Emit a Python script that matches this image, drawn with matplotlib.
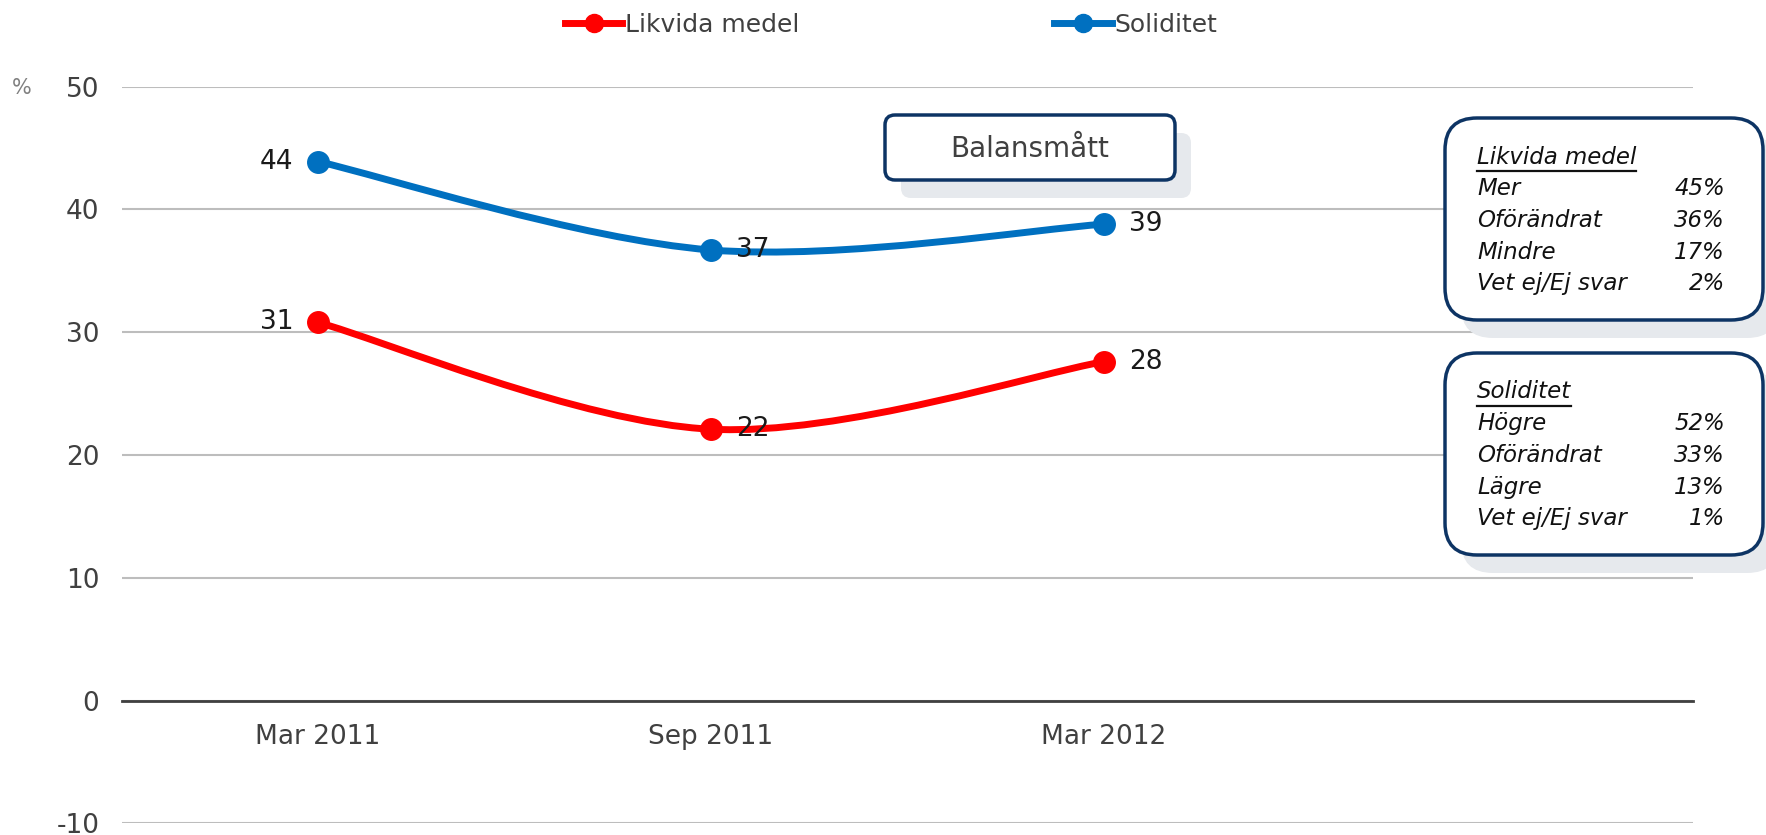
import numpy as np
import matplotlib.pyplot as plt
from matplotlib.path import Path
from matplotlib.patches import PathPatch, FancyBboxPatch
from matplotlib.lines import Line2D

plt.rcParams["axes.unicode_minus"] = False
plt.rcParams["font.family"] = "DejaVu Sans"

periods = ["Mar 2011", "Sep 2011", "Mar 2012"]
likvida = [30.8, 22.1, 27.6]
soliditet = [43.9, 36.7, 38.8]
series_names = ["Likvida medel", "Soliditet"]
series_colors = ["#ff0000", "#0070c0"]
label_side = [["left", "right", "right"], ["left", "right", "right"]]

box_likvida_title = "Likvida medel"
box_likvida_rows = ["Mer", "Oförändrat", "Mindre", "Vet ej/Ej svar"]
box_likvida_vals = ["45%", "36%", "17%", "2%"]
box_solid_title = "Soliditet"
box_solid_rows = ["Högre", "Oförändrat", "Lägre", "Vet ej/Ej svar"]
box_solid_vals = ["52%", "33%", "13%", "1%"]

W, H = 1766, 835
TXT = "#404040"
NAVY = "#0d3464"
SHADOW = "#e6e9ed"


def smooth_path(xs, ys):
    # Excel-like smoothed line: cubic bezier through the points
    p = np.column_stack([xs, ys]).astype(float)
    n = len(p)
    verts = [p[0]]
    codes = [Path.MOVETO]
    for i in range(n - 1):
        prev = p[i - 1] if i > 0 else p[i]
        nxt = p[i + 2] if i + 2 < n else p[i + 1]
        c1 = p[i] + (p[i + 1] - prev) / 6
        c2 = p[i + 1] - (nxt - p[i]) / 6
        verts += [c1, c2, p[i + 1]]
        codes += [Path.CURVE4] * 3
    return Path(verts, codes)


fig = plt.figure(figsize=(W / 100, H / 100), dpi=100)
ax = fig.add_axes([121.6 / W, 1 - 823.3 / H, (1693 - 121.6) / W, (823.3 - 86.7) / H])

x = np.arange(len(periods))
for vals, color, sides in zip([likvida, soliditet], series_colors, label_side):
    ax.add_patch(PathPatch(smooth_path(x, vals), facecolor="none", edgecolor=color,
                           lw=5, capstyle="round", zorder=3))
    ax.plot(x, vals, "o", color=color, ms=15.5, zorder=4)
    for xi, v, side in zip(x, vals, sides):
        dx = -18 if side == "left" else 18
        ax.annotate(f"{v:.0f}", (xi, v), xytext=(dx, 0), textcoords="offset points",
                    ha="right" if side == "left" else "left", va="center",
                    fontsize=19, color="#1a1a1a", zorder=5)

ax.set_xlim(-0.5, 3.5)
ax.set_ylim(-10, 50)
ax.set_yticks(range(-10, 51, 10))
ax.set_xticks(x)
ax.set_xticklabels(periods)
ax.tick_params(axis="y", length=0, pad=16, labelsize=19, labelcolor=TXT)
ax.tick_params(axis="x", length=0, pad=17, labelsize=19, labelcolor=TXT)
ax.grid(axis="y", color="#bdbdbd", lw=1.5)
ax.set_axisbelow(True)
for s in ["top", "right", "left"]:
    ax.spines[s].set_visible(False)
ax.spines["bottom"].set_position(("data", 0))
ax.spines["bottom"].set_color("#404040")
ax.spines["bottom"].set_linewidth(2)
ax.spines["bottom"].set_zorder(2)

fig.text(22 / W, 1 - 88 / H, "%", fontsize=15, color="#808080", ha="center", va="center")

handles = [Line2D([], [], color=c, lw=5, marker="o", ms=13) for c in series_colors]
fig.legend(handles, series_names, loc="center", bbox_to_anchor=(891 / W, 1 - 25 / H), ncol=2,
           frameon=False, handlelength=2.3, handletextpad=0.1, columnspacing=10.2,
           prop={"size": 18}, labelcolor=TXT)

# overlay in pixel coordinates for the text boxes
ov = fig.add_axes([0, 0, 1, 1], facecolor="none")
ov.set_xlim(0, W)
ov.set_ylim(H, 0)
ov.axis("off")


def rbox(x0, y0, x1, y1, r, shadow=(16, 18)):
    ov.add_patch(FancyBboxPatch((x0 + shadow[0] + r, y0 + shadow[1] + r),
                                x1 - x0 - 2 * r, y1 - y0 - 2 * r,
                                boxstyle=f"round,pad={r}", fc=SHADOW, ec="none", zorder=1))
    ov.add_patch(FancyBboxPatch((x0 + r, y0 + r), x1 - x0 - 2 * r, y1 - y0 - 2 * r,
                                boxstyle=f"round,pad={r}", fc="white", ec=NAVY, lw=2.5, zorder=2))


rbox(885, 115, 1175, 180, 10)
ov.text(1030, 149, "Balansmått", fontsize=20, color=TXT, ha="center", va="center", zorder=3)


def info_box(top, title, rows, vals):
    rbox(1445, top, 1763, top + 202, 32)
    ty = top + 39
    t = ov.text(1477, ty, title, fontsize=16.5, style="italic", color="#111111",
                ha="left", va="center", zorder=3)
    # underline
    fig.canvas.draw()
    bb = t.get_window_extent().transformed(ov.transData.inverted())
    ov.plot([bb.x0, bb.x1], [ty + 14, ty + 14], color="#111111", lw=1.6, zorder=3)
    for i, (r, v) in enumerate(zip(rows, vals)):
        y = ty + 31.7 * (i + 1)
        ov.text(1477, y, r, fontsize=16.5, style="italic", color="#111111",
                ha="left", va="center", zorder=3)
        ov.text(1725, y, v, fontsize=16.5, style="italic", color="#111111",
                ha="right", va="center", zorder=3)


info_box(118, box_likvida_title, box_likvida_rows, box_likvida_vals)
info_box(353, box_solid_title, box_solid_rows, box_solid_vals)

fig.savefig("out.png", dpi=100)
